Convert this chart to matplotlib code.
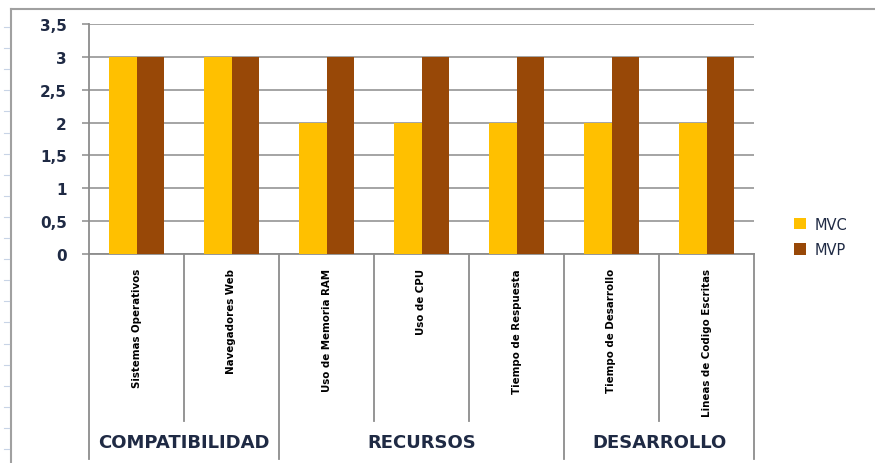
import numpy as np
import matplotlib.pyplot as plt
from matplotlib import font_manager

categories = ["Sistemas Operativos", "Navegadores Web", "Uso de Memoria RAM", "Uso de CPU",
              "Tiempo de Respuesta", "Tiempo de Desarrollo", "Lineas de Codigo Escritas"]
groups = ["COMPATIBILIDAD", "RECURSOS", "DESARROLLO"]
group_sizes = [2, 3, 2]
mvc = [3, 3, 2, 2, 2, 2, 2]
mvp = [3, 3, 3, 3, 3, 3, 3]
yticks = [0, 0.5, 1, 1.5, 2, 2.5, 3, 3.5]
ytick_labels = ["0", "0,5", "1", "1,5", "2", "2,5", "3", "3,5"]

# look for a narrow bold face for the rotated labels
narrow = None
for f in font_manager.fontManager.ttflist:
    tag = (f.name + " " + f.fname).lower()
    if ("narrow" in tag or "condensed" in tag) and "bold" in f.fname.lower() and "italic" not in f.fname.lower() \
            and "oblique" not in f.fname.lower():
        narrow = font_manager.FontProperties(fname=f.fname)
        break
if narrow is None:
    narrow = font_manager.FontProperties(family="DejaVu Sans", weight="bold")
    label_size = 8.5
else:
    label_size = 8.2

W, H = 875, 464
fig = plt.figure(figsize=(W / 100, H / 100), dpi=100)
ax = fig.add_axes([89 / W, 1 - 255 / H, (754 - 89) / W, (255 - 25) / H])

grid_c = "#8c8c8c"
x = np.arange(len(categories))
bw = 0.29
ax.bar(x - bw / 2, mvc, bw, color="#FFC000", label="MVC", zorder=3)
ax.bar(x + bw / 2, mvp, bw, color="#984807", label="MVP", zorder=3)

ax.set_xlim(-0.5, len(categories) - 0.5)
ax.set_ylim(0, 3.5)
ax.set_yticks(yticks)
ax.set_yticklabels(ytick_labels, fontsize=11, fontweight="bold", color="#1f2a44")
ax.yaxis.grid(True, color=grid_c, linewidth=1.1, zorder=0)
ax.tick_params(axis="y", length=5, color=grid_c, width=1.1, pad=11)
ax.set_xticks([])
for s in ["top", "right"]:
    ax.spines[s].set_visible(False)
ax.spines["left"].set_color(grid_c)
ax.spines["left"].set_linewidth(1.3)
ax.spines["bottom"].set_color(grid_c)
ax.spines["bottom"].set_linewidth(1.3)

# axes-fraction positions below the plot (pixel rows converted)
def below(p):
    return (255 - p) / 230

trans = ax.get_xaxis_transform()
boundaries = np.cumsum([0] + group_sizes) - 0.5
for i in range(len(categories) + 1):
    b = i - 0.5
    low = below(460) if b in boundaries else below(422)
    ax.plot([b, b], [0, low], transform=trans, color=grid_c, linewidth=1.3, clip_on=False)

for i, name in enumerate(categories):
    ax.text(i, below(269), name, transform=trans, rotation=90,
            ha="center", va="top", fontproperties=narrow, fontsize=label_size,
            color="black")

for g, name in enumerate(groups):
    c = (boundaries[g] + boundaries[g + 1]) / 2
    ax.text(c, below(443), name, transform=trans, ha="center", va="center",
            fontsize=13, fontweight="bold", color="#1f2a44")

ax.legend(loc="center left", bbox_to_anchor=(781 / W, 1 - 238 / H),
          bbox_transform=fig.transFigure, frameon=False, fontsize=10.5,
          handlelength=0.8, handleheight=0.8, handletextpad=0.6,
          labelspacing=0.7, labelcolor="#1f2a44")

# chart frame and sheet row marks
fig.add_artist(plt.Line2D([11 / W, 11 / W], [0, 1 - 10 / H], color="#a0a0a0", linewidth=1.5))
fig.add_artist(plt.Line2D([11 / W, 1], [1 - 10 / H, 1 - 10 / H], color="#a0a0a0", linewidth=1.5))
for yy in np.arange(28, 464, 21.1):
    fig.add_artist(plt.Line2D([4 / W, 9 / W], [1 - yy / H, 1 - yy / H], color="#c8d4e6", linewidth=0.8))

fig.savefig("out.png", dpi=100)
